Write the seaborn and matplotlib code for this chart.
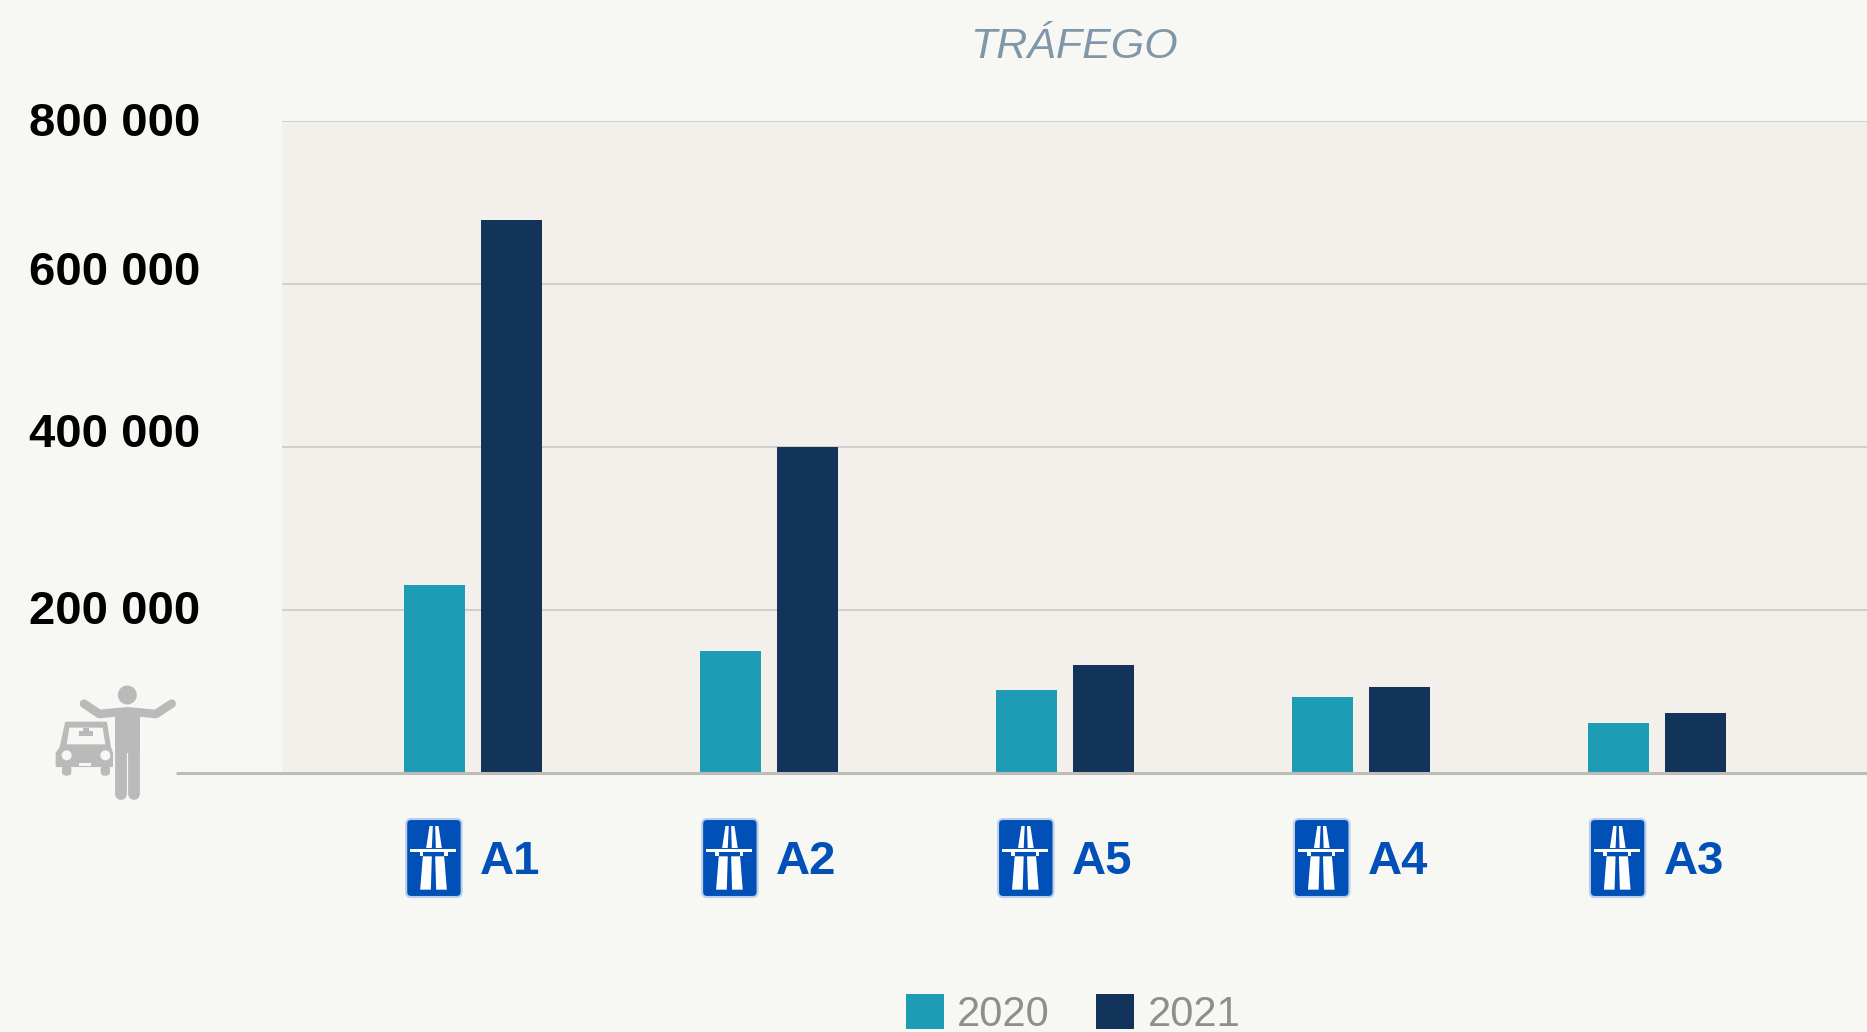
import matplotlib
matplotlib.use("Agg")
import matplotlib.pyplot as plt
from matplotlib.patches import Circle, FancyBboxPatch, Polygon, Rectangle
from matplotlib.transforms import ScaledTranslation
import pandas as pd
import seaborn as sns

roads = ["A1", "A2", "A5", "A4", "A3"]
years = ["2020", "2021"]
values_2020 = [230000, 150000, 102000, 93000, 61000]
values_2021 = [678000, 400000, 132000, 106000, 74000]
tick_values = [0, 200000, 400000, 600000, 800000]
tick_labels = ["", "200 000", "400 000", "600 000", "800 000"]
tick_shift_px = [0, 3, 17, 16, 1]

BG = "#f7f7f3"
PLOT_BG = "#f3f0ec"
TEAL = "#1f9cb5"
NAVY = "#12335a"
BLUE = "#0050b8"
ICON = "#bababa"

W, H = 1867, 1032

sns.set_theme(style="white")
plt.rcParams["font.family"] = ["Liberation Sans", "DejaVu Sans"]

df = pd.DataFrame({
    "road": roads * 2,
    "year": [years[0]] * 5 + [years[1]] * 5,
    "value": values_2020 + values_2021,
})

fig = plt.figure(figsize=(W / 100, H / 100), dpi=100, facecolor=BG)
ax = fig.add_axes([282 / W, 1 - 773 / H, 1 - 282 / W, (773 - 120.5) / H], facecolor=PLOT_BG)
sns.barplot(data=df, x="road", y="value", hue="year", order=roads, hue_order=years,
            palette=[TEAL, NAVY], width=0.519, gap=0.2, saturation=1, linewidth=0, ax=ax)

ax.set_xlim(-0.646, 4.71)
ax.set_ylim(0, 800000)
ax.set_xlabel("")
ax.set_ylabel("")
ax.set_xticklabels([])
ax.set_axisbelow(True)
ax.grid(axis="y", color="#cbc9c5", lw=1.2)
ax.grid(axis="x", visible=False)
ax.tick_params(length=0)
sns.despine(ax=ax, left=True, bottom=True, top=True, right=True)

ax.set_yticks(tick_values, tick_labels, fontsize=34, fontweight="bold", color="black")
ax.tick_params(axis="y", pad=59)
for lab, dy in zip(ax.get_yticklabels(), tick_shift_px):
    lab.set_transform(lab.get_transform() + ScaledTranslation(0, dy / 100, fig.dpi_scale_trans))

handles, labels = ax.get_legend_handles_labels()
ax.get_legend().remove()
fig.legend(handles, labels, loc="lower left", bbox_to_anchor=(868 / W, -0.039), ncols=2, frameon=False,
           fontsize=30, labelcolor="#8e8e8e", handlelength=0.92, handleheight=0.9,
           handletextpad=0.32, columnspacing=1.1, borderpad=0.4)

# pixel overlay for the signs and the icon
ov = fig.add_axes([0, 0, 1, 1], facecolor="none", zorder=5)
ov.set_xlim(0, W)
ov.set_ylim(H, 0)
ov.axis("off")

ov.plot([176, W], [773, 773], color="#bdbcb8", lw=2.2, solid_capstyle="butt")
ov.text(1074, 47, "TRÁFEGO", fontsize=31, fontstyle="italic", color="#7f97a8", ha="center", va="center")


def draw_sign(x0, y0):
    # shapes measured on the 3x zoom, origin at the top left of the sign
    def pts(p):
        return [(x0 + a / 3, y0 + b / 3) for a, b in p]

    ov.add_patch(FancyBboxPatch((x0 + 1, y0 + 1), 55.5, 78, boxstyle="round,pad=0,rounding_size=5",
                                fc=BLUE, ec="#bcd0ea", lw=1.5))
    for shape in [
        [(73, 24), (83, 24), (80, 90), (63, 90)],
        [(90, 24), (100, 24), (110, 90), (92, 90)],
        [(53, 115), (80, 115), (77, 215), (45, 215)],
        [(90, 115), (117, 115), (125, 215), (93, 215)],
        [(15, 94), (153, 94), (153, 101), (15, 101)],
        [(43, 100), (53, 100), (53, 115), (43, 115)],
        [(117, 100), (127, 100), (127, 115), (117, 115)],
    ]:
        ov.add_patch(Polygon(pts(shape), fc="white", ec="none"))


for i, road in enumerate(roads):
    px = ax.transData.transform((i, 0))[0]
    draw_sign(px - 68, 818)
    ov.text(px + 37, 874, road, fontsize=34, fontweight="bold", color=BLUE, ha="center", va="baseline")


def zx(v):
    return 30 + v / 3


def zy(v):
    return 670 + v / 3


# person
ov.add_patch(Circle((zx(292), zy(75)), 9.5, fc=ICON, ec="none"))
ov.plot([zx(162), zx(208), zx(292), zx(378), zx(425)], [zy(101), zy(132), zy(124), zy(132), zy(101)],
        color=ICON, lw=6.2, solid_capstyle="round", solid_joinstyle="round")
ov.add_patch(Rectangle((zx(255), zy(115)), 25, 45, fc=ICON, ec="none"))
ov.plot([zx(272), zx(272)], [zy(240), zy(372)], color=ICON, lw=8.5, solid_capstyle="round")
ov.plot([zx(313), zx(313)], [zy(240), zy(372)], color=ICON, lw=8.5, solid_capstyle="round")

# car
ov.add_patch(Polygon([(zx(108), zy(158)), (zx(228), zy(158)), (zx(240), zy(232)), (zx(246), zy(250)),
                      (zx(246), zy(288)), (zx(80), zy(288)), (zx(80), zy(250)), (zx(92), zy(232))],
                     fc=ICON, ec=ICON, lw=1.5, joinstyle="round"))
ov.add_patch(Polygon([(zx(118), zy(173)), (zx(218), zy(173)), (zx(226), zy(223)), (zx(110), zy(223))],
                     fc=BG, ec="none"))
ov.add_patch(Rectangle((zx(148), zy(183)), 40 / 3, 16 / 3, fc=ICON, ec="none"))
ov.add_patch(Rectangle((zx(160), zy(173)), 16 / 3, 12 / 3, fc=ICON, ec="none"))
for cx in (110, 226):
    ov.add_patch(Circle((zx(cx), zy(256)), 5, fc=BG, ec="none"))
    ov.add_patch(FancyBboxPatch((zx(cx - 14), zy(285)), 28 / 3, 32 / 3, boxstyle="round,pad=0,rounding_size=4",
                                fc=ICON, ec="none"))
ov.add_patch(Rectangle((zx(148), zy(278)), 36 / 3, 10 / 3, fc=BG, ec="none"))

fig.savefig("out.png", dpi=100, facecolor=BG)
